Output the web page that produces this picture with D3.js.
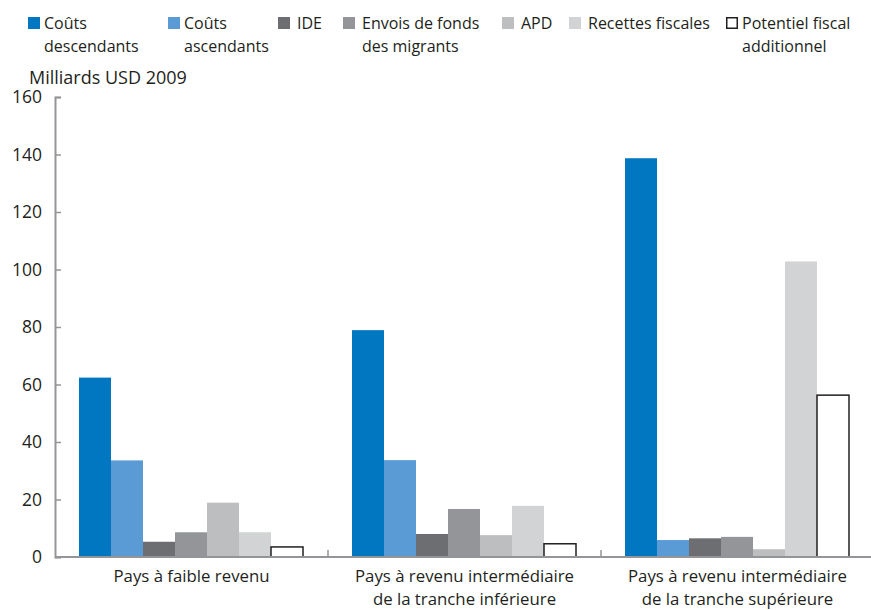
<!DOCTYPE html>
<html>
<head>
<meta charset="utf-8">
<script src="https://cdn.jsdelivr.net/npm/d3@7"></script>
<style>
  body { margin: 0; background: #fff; }
  svg text { font-family: "Open Sans", Lato, sans-serif; fill: #231f20; }
</style>
</head>
<body>
<script>
// categories and series
const categories = [
    ["Pays à faible revenu"],
    ["Pays à revenu intermédiaire", "de la tranche inférieure"],
    ["Pays à revenu intermédiaire", "de la tranche supérieure"]
];
const seriesNames = [
    ["Coûts", "descendants"],
    ["Coûts", "ascendants"],
    ["IDE"],
    ["Envois de fonds", "des migrants"],
    ["APD"],
    ["Recettes fiscales"],
    ["Potentiel fiscal", "additionnel"]
];
const seriesColors = ["#0077c0", "#5b9bd5", "#6d6e71", "#939598", "#bcbec0", "#d1d3d4", "#ffffff"];

// values (Milliards USD 2009), one array per series, in category order
const coutsDescendants = [62.4, 78.9, 138.7];
const coutsAscendants = [33.6, 33.7, 5.9];
const ide = [5.3, 8.0, 6.5];
const envoisFonds = [8.6, 16.7, 7.0];
const apd = [18.9, 7.6, 2.7];
const recettesFiscales = [8.6, 17.8, 102.8];
const potentielFiscal = [3.5, 4.6, 56.3];
const seriesValues = [coutsDescendants, coutsAscendants, ide, envoisFonds, apd, recettesFiscales, potentielFiscal];

const yTicks = [0, 20, 40, 60, 80, 100, 120, 140, 160];

const width = 871, height = 610;
const svg = d3.select("body").append("svg")
    .attr("width", width)
    .attr("height", height);

let x0 = d3.scaleBand()
    .domain(d3.range(categories.length))
    .range([55, 874]);

let x1 = d3.scaleBand()
    .domain(d3.range(seriesNames.length))
    .range([24, x0.bandwidth() - 25]);

let y = d3.scaleLinear()
    .domain([0, 160])
    .range([557, 97]);

// bars
let groups = svg.selectAll("g.cat").data(categories)
    .enter().append("g")
    .attr("class", "cat")
    .attr("transform", (d, i) => "translate(" + x0(i) + ",0)");

groups.selectAll("rect")
    .data((d, i) => seriesValues.map((s, j) => ({series: j, value: s[i]})))
    .enter().append("rect")
    .attr("x", d => x1(d.series))
    .attr("width", x1.bandwidth())
    .attr("y", d => y(d.value))
    .attr("height", d => y(0) - y(d.value))
    .attr("fill", d => seriesColors[d.series])
    .attr("stroke", d => d.series === 6 ? "#231f20" : "none")
    .attr("stroke-width", 1.5);

// y axis
let yAxis = d3.axisRight(y)
    .tickValues(yTicks)
    .tickSize(6)
    .tickFormat("");
let yg = svg.append("g")
    .attr("transform", "translate(55,0)")
    .call(yAxis);
yg.select(".domain").attr("stroke", "#939598").attr("stroke-width", 2);
yg.selectAll(".tick line").attr("stroke", "#939598").attr("stroke-width", 1.5);

svg.selectAll("text.ytick").data(yTicks)
    .enter().append("text")
    .attr("class", "ytick")
    .attr("x", 42)
    .attr("y", d => y(d))
    .attr("dy", "0.36em")
    .attr("text-anchor", "end")
    .style("font-size", "17.5px")
    .text(d => d);

// x axis
svg.append("line")
    .attr("x1", 55).attr("x2", 871)
    .attr("y1", y(0)).attr("y2", y(0))
    .attr("stroke", "#939598")
    .attr("stroke-width", 2);

svg.selectAll("line.sep").data(d3.range(1, categories.length))
    .enter().append("line")
    .attr("class", "sep")
    .attr("x1", d => x0(d)).attr("x2", d => x0(d))
    .attr("y1", y(0)).attr("y2", y(0) - 7)
    .attr("stroke", "#939598")
    .attr("stroke-width", 1.5);

let catLabels = svg.selectAll("text.cat").data(categories)
    .enter().append("text")
    .attr("class", "cat")
    .attr("text-anchor", "middle")
    .attr("x", (d, i) => x0(i) + x0.bandwidth() / 2)
    .attr("y", 582)
    .style("font-size", "16.8px");
catLabels.selectAll("tspan").data(d => d)
    .enter().append("tspan")
    .attr("x", function() { return this.parentNode.getAttribute("x"); })
    .attr("dy", (d, i) => i === 0 ? 0 : 23)
    .text(d => d);

// unit label
svg.append("text")
    .attr("x", 29)
    .attr("y", 84)
    .style("font-size", "18px")
    .text("Milliards USD 2009");

// legend
const legendX = [28, 168, 278, 343, 502, 569, 726];
let legend = svg.selectAll("g.legend").data(seriesNames)
    .enter().append("g")
    .attr("class", "legend")
    .attr("transform", (d, i) => "translate(" + legendX[i] + ",0)");

legend.append("rect")
    .attr("x", (d, i) => i === 6 ? 0.75 : 0)
    .attr("y", (d, i) => i === 6 ? 17.75 : 17)
    .attr("width", (d, i) => i === 6 ? 10.5 : 12)
    .attr("height", (d, i) => i === 6 ? 10.5 : 12)
    .attr("fill", (d, i) => seriesColors[i])
    .attr("stroke", (d, i) => i === 6 ? "#231f20" : "none")
    .attr("stroke-width", 1.5);

let legendText = legend.append("text")
    .attr("x", (d, i) => i >= 2 && i !== 6 ? 19 : 16)
    .attr("y", 29)
    .style("font-size", "16px");
legendText.selectAll("tspan").data(d => d)
    .enter().append("tspan")
    .attr("x", function() { return this.parentNode.getAttribute("x"); })
    .attr("dy", (d, i) => i === 0 ? 0 : 23)
    .text(d => d);
</script>
</body>
</html>
